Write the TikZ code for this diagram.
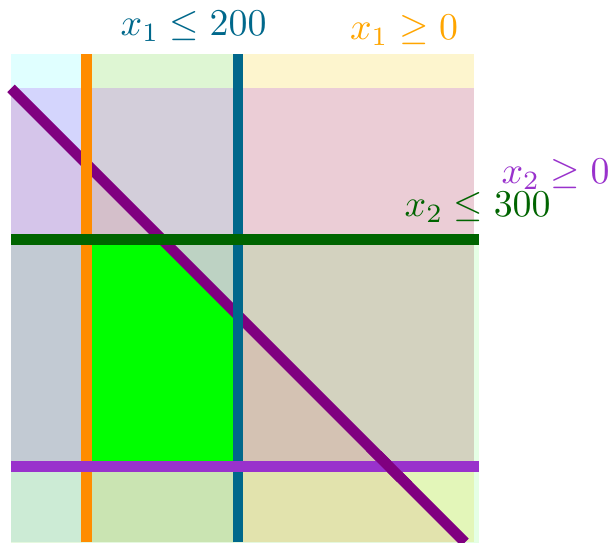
\documentclass[tikz,border=0pt]{standalone}
\usetikzlibrary{calc}
\definecolor{xonelo}{RGB}{255,140,0}
\definecolor{xonelotext}{RGB}{255,165,0}
\definecolor{xonehi}{RGB}{0,104,139}
\definecolor{xtwolo}{RGB}{153,50,204}
\definecolor{xtwohi}{RGB}{0,100,0}
\definecolor{sumline}{RGB}{128,0,128}
\definecolor{xoneloshade}{RGB}{245,205,10}
\definecolor{xonehishade}{RGB}{0,255,255}
\definecolor{xtwoloshade}{RGB}{165,45,245}
\definecolor{xtwohishade}{RGB}{0,255,0}
\definecolor{sumshade}{RGB}{225,60,70}
\definecolor{feasible}{RGB}{0,255,0}

\begin{document}
\begin{tikzpicture}[x=0.2pt, y=0.2pt,
    cline/.style={line width=2.8pt},
    label/.style={anchor=base}]

    \useasboundingbox (-114.6,-100.1) rectangle (693,616.8);

    \begin{scope}
        \coordinate (O) at (0, 0);
        \coordinate (A) at (200, 0);
        \coordinate (B) at (200, 200);
        \coordinate (C) at (100, 300);
        \coordinate (D) at (0, 300);
        \coordinate (S1) at (-100, 500);
        \coordinate (S2) at (500, -100);

        % half planes
        \fill[xoneloshade, fill opacity=0.2] (0, -100) rectangle (512, 545);
        \fill[xonehishade, fill opacity=0.12] (-100, -100) rectangle (200, 545);
        \fill[xtwoloshade, fill opacity=0.2] (-100, 0) rectangle (512, 500);
        \fill[xtwohishade, fill opacity=0.1] (-100, -101) rectangle (518, 300);
        \fill[sumshade, fill opacity=0.1] (S1) -- (S2) -- (-100, -100) -- cycle;

        % feasible region
        \fill[feasible] (O) -- (A) -- (B) -- (C) -- (D) -- cycle;

        % constraints
        \draw[cline, sumline] (S1) -- (S2);
        \draw[cline, xonelo] (0, -100) -- (0, 545);
        \draw[cline, xonehi] (200, -100) -- (200, 545);
        \draw[cline, xtwolo] (-100, 0) -- (518, 0);
        \begin{scope}
            \clip (300, -20) rectangle (500, 20);
            \draw[cline, sumline] (S1) -- (S2);
        \end{scope}
        \draw[cline, xtwohi] (-100, 300) -- (518, 300);

        \node[label, xonehi] (lblxonehi) at (141.2, 569.3) {$x_1 \leq 200$};
        \node[label, xonelotext] (lblxonelo) at (419.4, 564.6) {$x_1 \geq 0$};
        \node[label, xtwolo] (lblxtwolo) at (619.6, 373.6) {$x_2 \geq 0$};
        \node[label, xtwohi] (lblxtwohi) at (516.7, 330) {$x_2 \leq 300$};
    \end{scope}
\end{tikzpicture}
\end{document}
